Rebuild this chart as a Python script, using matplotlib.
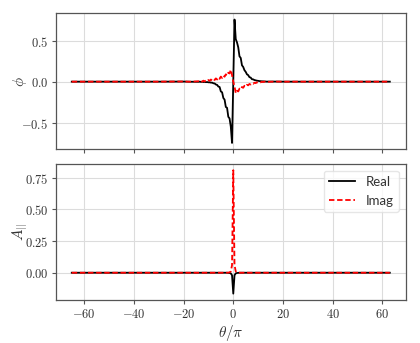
import matplotlib
matplotlib.use("Agg")
import matplotlib.pyplot as plt
from matplotlib.ticker import FormatStrFormatter, MultipleLocator

plt.rcParams["mathtext.fontset"] = "cm"
plt.rcParams["font.family"] = ["Lato", "DejaVu Sans"]

# theta / pi sample points
theta = [-65, -30, -20, -17,
         -14, -13.5, -13, -12.5, -12, -11.5, -11, -10.5, -10, -9.5, -9, -8.5,
         -8, -7.5, -7, -6.5, -6, -5.5, -5, -4.5, -4, -3.5, -3, -2.5, -2, -1.5,
         -1, -0.5, 0, 0.5, 1, 1.5, 2, 2.5, 3, 3.5, 4, 4.5, 5, 5.5, 6, 6.5,
         7, 7.5, 8, 8.5, 9, 9.5, 10, 10.5, 11, 11.5, 12, 12.5, 13, 13.5, 14,
         17, 20, 30, 63]

phi_real = [0, 0, 0.001, -0.001,
            -0.002, 0.0, -0.003, -0.002, -0.004, -0.003, -0.006, -0.005, -0.008, -0.008, -0.012, -0.012,
            -0.02, -0.022, -0.035, -0.04, -0.06, -0.065, -0.12, -0.13, -0.2, -0.22, -0.31, -0.32, -0.43, -0.45,
            -0.55, -0.75, 0.0, 0.76, 0.52, 0.48, 0.42, 0.31, 0.29, 0.2, 0.18, 0.14, 0.12, 0.09, 0.08, 0.055,
            0.05, 0.03, 0.028, 0.02, 0.016, 0.012, 0.01, 0.007, 0.006, 0.004, 0.004, 0.002, 0.002, 0.0, 0.001,
            0.001, 0, 0, 0]

phi_imag = [0, 0, 0.002, -0.001,
            0.005, -0.002, 0.008, 0.0, 0.012, 0.003, 0.016, 0.006, 0.02, 0.01, 0.026, 0.014,
            0.032, 0.02, 0.04, 0.026, 0.05, 0.035, 0.062, 0.045, 0.075, 0.06, 0.09, 0.075, 0.11, 0.1,
            0.145, 0.08, 0.0, -0.06, -0.14, -0.11, -0.12, -0.085, -0.095, -0.065, -0.075, -0.05, -0.06, -0.038, -0.045, -0.028,
            -0.035, -0.02, -0.026, -0.013, -0.018, -0.008, -0.012, -0.004, -0.008, -0.001, -0.005, 0.001, -0.003, 0.001, -0.002,
            0.001, 0, 0, 0]

apar_real = [0, 0, 0, 0,
             0, 0, 0, 0, 0, 0, 0, 0, 0, 0, 0, 0,
             0, 0, 0, 0, 0, 0, 0, 0, 0, 0, 0, 0, -0.001, -0.002,
             -0.005, -0.02, -0.165, -0.02, -0.005, -0.002, -0.001, 0, 0, 0, 0, 0, 0, 0, 0, 0,
             0, 0, 0, 0, 0, 0, 0, 0, 0, 0, 0, 0, 0, 0, 0,
             0, 0, 0, 0]

apar_imag = [0, 0, 0, 0,
             0, 0, 0, 0, 0, 0, 0, 0, 0, 0, 0, 0,
             0, 0, 0, 0, 0, 0, 0, 0, 0, 0, 0, 0, 0.001, 0.003,
             0.01, 0.06, 0.81, 0.06, 0.01, 0.003, 0.001, 0, 0, 0, 0, 0, 0, 0, 0, 0,
             0, 0, 0, 0, 0, 0, 0, 0, 0, 0, 0, 0, 0, 0, 0,
             0, 0, 0, 0]

fig, (ax1, ax2) = plt.subplots(2, 1, figsize=(4.2, 3.43), dpi=100, sharex=True)
fig.subplots_adjust(left=0.133, right=0.966, top=0.961, bottom=0.126, hspace=0.11)

for ax in (ax1, ax2):
    ax.grid(True, color="#dcdcdc", linewidth=0.8)
    ax.set_axisbelow(True)
    for s in ax.spines.values():
        s.set_color("#555555")
        s.set_linewidth(0.9)
    ax.tick_params(colors="#555555", length=3, width=0.8, labelsize=9,
                   labelcolor="#333333", pad=2.5)

ax1.plot(theta, phi_real, color="black", lw=1.3, label="Real")
ax1.plot(theta, phi_imag, color="red", lw=1.3, ls="--", dashes=(3, 1.5), label="Imag")
ax1.set_ylabel(r"$\phi$", fontsize=11, color="#333333", ha="center", va="center")
ax1.yaxis.set_label_coords(-0.103, 0.5)
ax1.yaxis.set_major_locator(MultipleLocator(0.5))
ax1.yaxis.set_major_formatter(FormatStrFormatter(r"$%.1f$"))

ax2.plot(theta, apar_real, color="black", lw=1.3, label="Real")
ax2.plot(theta, apar_imag, color="red", lw=1.3, ls="--", dashes=(3, 1.5), label="Imag")
ax2.set_ylabel(r"$A_{||}$", fontsize=11, color="#333333", ha="center", va="center")
ax2.yaxis.set_label_coords(-0.103, 0.5)
ax2.set_xlabel(r"$\theta/\pi$", fontsize=11, color="#333333", labelpad=2)
ax2.yaxis.set_major_locator(MultipleLocator(0.25))
ax2.yaxis.set_major_formatter(FormatStrFormatter(r"$%.2f$"))
ax2.xaxis.set_major_locator(MultipleLocator(20))
ax2.xaxis.set_major_formatter(FormatStrFormatter(r"$%d$"))

leg = ax2.legend(loc="upper right", fontsize=9.5, fancybox=True, framealpha=0.8,
                 edgecolor="#e0e0e0")
for t in leg.get_texts():
    t.set_color("#333333")

fig.savefig("out.png", dpi=100)
